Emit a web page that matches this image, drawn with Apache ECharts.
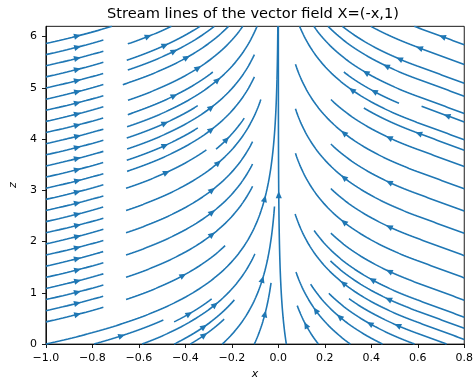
<!DOCTYPE html>
<html><head><meta charset="utf-8">
<script src="https://cdn.jsdelivr.net/npm/echarts@6/dist/echarts.min.js"></script>
<style>html,body{margin:0;padding:0;background:#fff}#c{width:476px;height:385px}</style>
</head><body><div id="c"></div>
<script>
// Stream lines of X = (-x, 1): one entry per drawn stream line (start point, end height, arrow-tip height)
const lineStartX = [-1.0000,-0.7931,-0.5862,-0.4483,-0.3793,-0.2414,-0.1034,0.0345,0.1724,0.3103,0.4483,0.5862,0.7241,
 -1,-1,-1,-1,-1,-1,-1,-1,-1,-1,-1,-1,-1,-1,-1,-1,-1,-1,-1,-1,-1,-1,-1,-1,-1,-1,
 0.8,0.8,0.8,0.8,0.8,0.8,0.8,-0.6506,-0.6469,-0.6691,-0.6476,-0.6521,
 -0.6477,-0.4483,0.8,0.8,0.8,0.8,0.8,0.8,0.8,0.8,0.8,0.8,-0.6506,-0.6552,0.8,0.5192,-0.6506,-0.6476,-0.6552,-0.6552,-0.6552,-0.6552,-0.6552,-0.6521,-0.6521,-0.2679];
const lineStartZ = [0,0,0,0,0,0,0,0,0,0,0,0,0,
 5.866,5.648,5.431,5.214,4.997,4.779,4.562,4.345,4.128,3.910,3.693,3.476,3.259,3.041,2.824,2.607,2.390,2.172,1.955,1.738,1.521,1.303,1.086,0.869,0.652,0.434,
 0.091,5.841,5.457,5.089,4.837,4.500,3.987,4.239,4.758,5.062,5.346,5.540,
 5.858,0.434,0.308,0.525,0.857,1.292,1.726,2.161,2.595,3.030,3.464,4.333,3.805,0.869,3.784,4.699,3.370,4.477,3.041,2.607,2.172,1.738,1.303,4.020,3.585,3.806];
const lineEndZ = [6.200,0.472,1.759,0.863,0.487,2.684,1.195,6.200,0.751,1.405,1.169,0.991,0.887,
 6.200,5.932,5.715,5.498,5.280,5.063,4.846,4.629,4.411,4.194,3.977,3.760,3.542,3.325,3.108,2.891,2.673,2.456,2.239,2.022,1.804,1.587,1.370,1.153,0.935,0.718,
 2.540,6.200,6.200,6.200,6.200,6.200,6.200,6.200,6.200,6.200,6.200,6.200,
 6.200,0.881,1.625,2.218,2.166,3.722,3.035,4.591,3.904,5.460,4.772,4.639,5.648,1.921,4.606,5.309,5.214,5.309,3.791,4.771,3.949,3.514,3.080,4.652,4.218,4.409];
const arrowZ = [2.897,0.182,0.807,0.373,0.210,1.320,0.648,2.973,0.424,0.708,0.570,0.428,0.387,
 6.027,5.810,5.592,5.375,5.158,4.941,4.723,4.506,4.289,4.072,3.854,3.637,3.420,3.203,2.985,2.768,2.551,2.334,2.117,1.899,1.682,1.465,1.248,1.030,0.813,0.596,
 1.226,6.019,5.800,5.588,5.453,5.330,4.994,5.192,5.421,5.623,5.742,5.857,
 6.027,0.621,0.903,1.284,1.446,2.419,2.315,3.288,3.184,4.157,4.053,4.478,4.657,1.368,4.132,4.959,4.223,4.873,3.376,3.579,3.044,2.610,2.175,4.336,3.902,4.035];
const xTicks = [-1.0,-0.8,-0.6,-0.4,-0.2,0.0,0.2,0.4,0.6,0.8];
const zTicks = [0,1,2,3,4,5,6];
const xRange = [-1, 0.8], zRange = [0, 6.2];

// field u = -x as sampled on the plotting grid; in the last grid cell (x >= 0.6) u stays at its value at x = 0.6
const EDGE = 0.6;
function lineConst(x0, z0){ return x0 > EDGE ? EDGE*Math.exp(z0 + (x0-EDGE)/EDGE) : x0*Math.exp(z0); }
function lineX(C, z){ if (C > 0){ const zs = Math.log(C/EDGE); if (z < zs) return EDGE + EDGE*(zs - z); } return C*Math.exp(-z); }

const COLOR = '#1f77b4';
const series = [], arrows = [];
for (let i = 0; i < lineStartX.length; i++){
  const C = lineConst(lineStartX[i], lineStartZ[i]);
  const z0 = lineStartZ[i], z1 = lineEndZ[i];
  const n = Math.max(8, Math.ceil((z1 - z0)/0.02));
  const pts = [];
  for (let k = 0; k <= n; k++){ const z = z0 + (z1 - z0)*k/n; pts.push([lineX(C, z), z]); }
  series.push({type:'line', data:pts, showSymbol:false, symbol:'none', lineStyle:{color:COLOR, width:1.6}, silent:true, animation:false, clip:true, z:2});
  const za = arrowZ[i];
  arrows.push([lineX(C, za), za, lineX(C, za - 0.01), za - 0.01]);
}
series.push({type:'custom', clip:true, silent:true, animation:false, z:3, data:arrows,
  renderItem: function(params, api){
    const tip = api.coord([api.value(0), api.value(1)]), back = api.coord([api.value(2), api.value(3)]);
    let dx = tip[0]-back[0], dy = tip[1]-back[1]; const L = Math.hypot(dx, dy) || 1; dx /= L; dy /= L;
    const len = 6.5, w = 3.1;
    const bx = tip[0]-len*dx, by = tip[1]-len*dy;
    return {type:'polygon', shape:{points:[[tip[0]+0.4*dx, tip[1]+0.4*dy],[bx-w*dy, by+w*dx],[bx+w*dy, by-w*dx]]}, style:{fill:COLOR}};
  }});

const F = 'DejaVu Sans';
const fmtX = v => (Math.abs(v) < 1e-9 ? 0 : v).toFixed(1).replace('-', '\u2212');
const chart = echarts.init(document.getElementById('c'), null, {renderer:'canvas'});
chart.setOption({
  animation:false,
  grid:{left:40, top:26.33, width:426, height:324.34, show:true, borderColor:'#000', borderWidth:0.9, backgroundColor:'transparent'},
  graphic:[{type:'text', x:253, y:6.5, style:{text:'Stream lines of the vector field X=(-x,1)', font:'14.6px "DejaVu Sans"', fill:'#000', align:'center'}}],
  xAxis:{type:'value', min:xRange[0], max:xRange[1], interval:0.2,
    axisLine:{show:true, onZero:false, lineStyle:{color:'#000', width:0.9}},
    axisTick:{show:true, length:3.9, customValues:xTicks, lineStyle:{color:'#000', width:0.9}},
    axisLabel:{color:'#000', fontSize:11, fontFamily:F, margin:9, customValues:xTicks, formatter:fmtX},
    splitLine:{show:false},
    name:'x', nameLocation:'middle', nameGap:23, nameTextStyle:{fontStyle:'italic', fontSize:11, fontFamily:F, color:'#000'}},
  yAxis:{type:'value', min:zRange[0], max:zRange[1], interval:1,
    axisLine:{show:true, onZero:false, lineStyle:{color:'#000', width:0.9}},
    axisTick:{show:true, length:3.9, customValues:zTicks, lineStyle:{color:'#000', width:0.9}},
    axisLabel:{color:'#000', fontSize:11, fontFamily:F, margin:9, customValues:zTicks, showMinLabel:true, showMaxLabel:true,
      formatter: v => String(Math.round(v))},
    splitLine:{show:false},
    name:'z', nameLocation:'middle', nameGap:22, nameTextStyle:{fontStyle:'italic', fontSize:11, fontFamily:F, color:'#000'}},
  series: series
});
</script></body></html>
